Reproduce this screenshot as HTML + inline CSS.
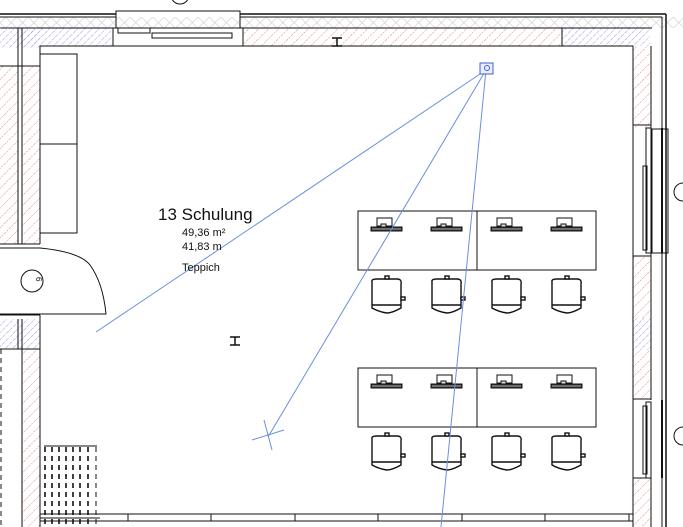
<!DOCTYPE html>
<html><head><meta charset="utf-8"><style>
html,body{margin:0;padding:0;background:#fff;}
svg{display:block;}
text{font-family:"Liberation Sans",sans-serif;fill:#111;}
</style></head><body>
<svg width="683" height="527" viewBox="0 0 683 527" xmlns="http://www.w3.org/2000/svg">
<defs>
<pattern id="red" width="7" height="7" patternUnits="userSpaceOnUse" patternTransform="rotate(45)">
<line x1="0" y1="0" x2="0" y2="7" stroke="#ec8080" stroke-width="1" stroke-dasharray="2,1"/></pattern>
<pattern id="blue" width="5" height="5" patternUnits="userSpaceOnUse" patternTransform="rotate(45)">
<line x1="0" y1="0" x2="0" y2="5" stroke="#9a9ae8" stroke-width="1" stroke-dasharray="2,1"/></pattern>
<pattern id="grey" width="8" height="8" patternUnits="userSpaceOnUse" patternTransform="rotate(45)">
<rect width="8" height="8" fill="none" stroke="#ccc" stroke-width="0.6"/></pattern>
<g id="chair" fill="#fff" stroke="#111" stroke-width="1.4">
<path d="M-15,-12 Q-16,-15 -10,-15 L10,-15 Q15,-15 14,-10 L14,14 Q5,19 0,19 Q-8,18 -15,14 Z"/>
<line x1="-15" y1="11" x2="14" y2="11"/>
<rect x="-2" y="-18" width="4" height="3"/>
<rect x="14" y="3" width="4" height="3"/>
</g>
<g id="mon" stroke="#111" fill="#fff" stroke-width="1">
<rect x="-10" y="-11" width="15" height="8"/>
<rect x="-6" y="-5" width="5" height="3" fill="#ddd"/>
<rect x="-16" y="-2" width="31" height="4" fill="#333"/>
<line x1="-15" y1="0" x2="14" y2="0" stroke="#aaa"/>
</g>
</defs>

<rect x="0" y="17" width="683" height="11" fill="url(#grey)"/>
<rect x="22" y="28" width="90" height="18" fill="url(#blue)"/>
<rect x="243" y="28" width="319" height="18" fill="url(#red)"/>
<rect x="562" y="28" width="88" height="18" fill="url(#blue)"/>
<g stroke="#111" fill="none" stroke-width="1">
<line x1="0" y1="14" x2="116" y2="14" stroke-width="1.5"/>
<line x1="240" y1="14" x2="666" y2="14" stroke-width="1.5"/>
<line x1="0" y1="17" x2="116" y2="17"/>
<line x1="240" y1="17" x2="662" y2="17"/>
<line x1="0" y1="28" x2="116" y2="28"/>
<line x1="240" y1="28" x2="652" y2="28"/>
<rect x="116" y="11" width="124" height="17"/>
<rect x="113" y="28" width="130" height="18"/>
<rect x="118" y="28" width="32" height="5"/>
<rect x="152" y="33" width="80" height="5"/>
<line x1="112" y1="46" x2="633" y2="46"/>
<line x1="562" y1="28" x2="562" y2="46"/>
<line x1="666" y1="14" x2="666" y2="527" stroke-width="1.5"/>
<line x1="662" y1="17" x2="662" y2="527"/>
<circle cx="180" cy="-5" r="9"/>
</g>
<rect x="0" y="28" width="40" height="20" fill="url(#blue)"/>
<rect x="0" y="66" width="18" height="178" fill="url(#red)"/>
<rect x="22" y="66" width="18" height="178" fill="url(#red)"/>
<rect x="0" y="319" width="40" height="30" fill="url(#blue)"/>
<rect x="22" y="349" width="18" height="178" fill="url(#red)"/>
<g stroke="#111" fill="none" stroke-width="1">
<line x1="18" y1="28" x2="18" y2="244"/>
<line x1="22" y1="28" x2="22" y2="244"/>
<line x1="40" y1="46" x2="40" y2="244"/>
<line x1="40" y1="46" x2="112" y2="46"/>
<line x1="0" y1="66" x2="40" y2="66"/>
<line x1="0" y1="244" x2="40" y2="244"/>
<line x1="0" y1="248" x2="40" y2="248"/>
<rect x="40" y="54" width="37" height="179"/>
<line x1="40" y1="144" x2="77" y2="144"/>
<path d="M40,248 Q80,252 90,265 Q103,283 106,314 L0,314"/>
<circle cx="32" cy="281" r="11"/>
<line x1="0" y1="315" x2="40" y2="315"/>
<line x1="18" y1="319" x2="18" y2="349"/>
<line x1="22" y1="319" x2="22" y2="527"/>
<line x1="40" y1="315" x2="40" y2="527"/>
<line x1="0" y1="349" x2="40" y2="349"/>
<line x1="1" y1="349" x2="1" y2="527" stroke-dasharray="5,4"/>
</g>
<text x="28" y="277" font-size="8" transform="rotate(90 32 281)">6</text>

<rect x="633" y="46" width="18" height="82" fill="url(#red)"/>
<rect x="633" y="256" width="18" height="62" fill="url(#red)"/>
<rect x="633" y="318" width="18" height="32" fill="url(#blue)"/>
<rect x="633" y="350" width="18" height="50" fill="url(#red)"/>
<rect x="633" y="478" width="18" height="49" fill="url(#red)"/>
<g stroke="#111" fill="none" stroke-width="1">
<line x1="633" y1="46" x2="633" y2="527"/>
<line x1="651" y1="46" x2="651" y2="128"/>
<line x1="651" y1="253" x2="651" y2="400"/>
<line x1="651" y1="478" x2="651" y2="527"/>
<line x1="633" y1="125" x2="651" y2="125"/>
<line x1="633" y1="256" x2="651" y2="256"/>
<line x1="633" y1="399" x2="651" y2="399"/>
<line x1="633" y1="478" x2="651" y2="478"/>
<rect x="652" y="129" width="16" height="124"/>
<rect x="646" y="128" width="5" height="125"/>
<rect x="643" y="166" width="4" height="84"/>
<rect x="646" y="402" width="5" height="76"/>
<rect x="643" y="406" width="4" height="68"/>
<line x1="662" y1="128" x2="662" y2="253" stroke-width="2"/>
<line x1="662" y1="400" x2="662" y2="478" stroke-width="2"/>
<circle cx="683" cy="192" r="9"/>
<circle cx="683" cy="436" r="9"/>
</g>

<g stroke="#111" fill="none" stroke-width="1">
<line x1="40" y1="514" x2="633" y2="514"/>
<line x1="40" y1="521" x2="633" y2="521"/>
<line x1="40" y1="518" x2="100" y2="518"/>
</g>
<g stroke="#111" stroke-width="1">
<line x1="128" y1="514" x2="128" y2="521"/><line x1="211" y1="514" x2="211" y2="521"/>
<line x1="295" y1="514" x2="295" y2="521"/><line x1="378" y1="514" x2="378" y2="521"/>
<line x1="462" y1="514" x2="462" y2="521"/><line x1="545" y1="514" x2="545" y2="521"/>
<line x1="629" y1="514" x2="629" y2="521"/>
</g>
<g stroke="#111" stroke-width="1.6" stroke-dasharray="5,4">
<line x1="45" y1="447" x2="45" y2="527"/><line x1="52" y1="447" x2="52" y2="527"/>
<line x1="59" y1="447" x2="59" y2="527"/><line x1="66" y1="447" x2="66" y2="527"/>
<line x1="73" y1="447" x2="73" y2="527"/><line x1="80" y1="447" x2="80" y2="527"/>
<line x1="88" y1="447" x2="88" y2="527"/><line x1="96" y1="447" x2="96" y2="527" stroke-width="1"/>
</g>
<line x1="44" y1="446" x2="97" y2="446" stroke="#111"/>

<g stroke="#111" stroke-width="1.5">
<line x1="332" y1="38" x2="342" y2="38"/><line x1="337" y1="38" x2="337" y2="46"/><line x1="332" y1="46" x2="342" y2="46"/>
<line x1="230" y1="337" x2="240" y2="337"/><line x1="235" y1="337" x2="235" y2="345"/><line x1="230" y1="345" x2="240" y2="345"/>
</g>

<g stroke="#111" fill="none" stroke-width="1">
<rect x="358" y="211" width="238" height="59"/><line x1="477" y1="211" x2="477" y2="270"/>
<rect x="358" y="368" width="238" height="59"/><line x1="477" y1="368" x2="477" y2="427"/>
</g>
<use href="#mon" x="387" y="229"/><use href="#mon" x="447" y="229"/><use href="#mon" x="507" y="229"/><use href="#mon" x="567" y="229"/>
<use href="#mon" x="387" y="386"/><use href="#mon" x="447" y="386"/><use href="#mon" x="507" y="386"/><use href="#mon" x="567" y="386"/>
<use href="#chair" x="387" y="294"/><use href="#chair" x="447" y="294"/><use href="#chair" x="507" y="294"/><use href="#chair" x="567" y="294"/>
<use href="#chair" x="387" y="451"/><use href="#chair" x="447" y="451"/><use href="#chair" x="507" y="451"/><use href="#chair" x="567" y="451"/>

<g stroke="#6a8fe0" stroke-width="1" fill="none">
<line x1="486" y1="70" x2="96" y2="332"/>
<line x1="486" y1="70" x2="268" y2="437"/>
<line x1="486" y1="70" x2="441" y2="527"/>
<line x1="252" y1="440" x2="284" y2="430"/>
<line x1="264" y1="420" x2="272" y2="450"/>
<rect x="480" y="63" width="13" height="11" stroke="#4060d0" fill="#e8eeff"/>
<circle cx="487" cy="68" r="2.5" stroke="#4060d0"/>
</g>

<text x="158" y="220" font-size="17">13 Schulung</text>
<text x="182" y="236" font-size="11">49,36 m²</text>
<text x="182" y="250" font-size="11">41,83 m</text>
<text x="182" y="271" font-size="11">Teppich</text>
</svg>
</body></html>
